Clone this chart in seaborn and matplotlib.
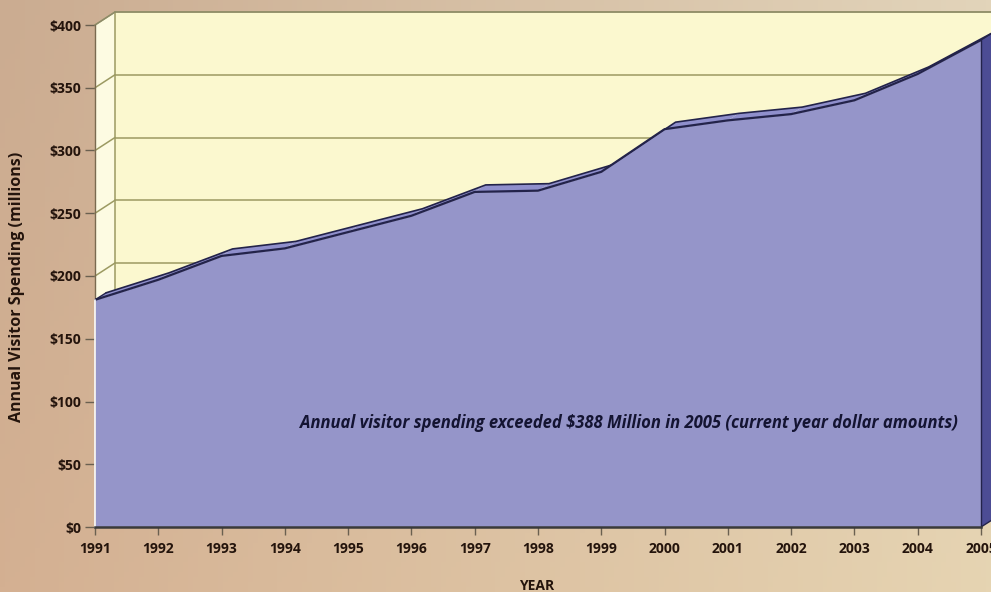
import numpy as np
import pandas as pd
import matplotlib
matplotlib.use("Agg")
import matplotlib.pyplot as plt
import seaborn as sns
from matplotlib.patches import Polygon
from matplotlib import font_manager

# ---- data ----
years = [1991, 1992, 1993, 1994, 1995, 1996, 1997, 1998, 1999, 2000, 2001, 2002, 2003, 2004, 2005]
spending = [181, 197, 216, 222, 235, 248, 267, 268, 283, 317, 324, 329, 340, 361, 388]
y_ticks = [0, 50, 100, 150, 200, 250, 300, 350, 400]
y_tick_labels = ["$0", "$50", "$100", "$150", "$200", "$250", "$300", "$350", "$400"]
y_label = "Annual Visitor Spending (millions)"
x_label = "YEAR"
note = "Annual visitor spending exceeded $388 Million in 2005 (current year dollar amounts)"

df = pd.DataFrame({"year": years, "spending": spending})

sns.set_style("ticks")
names = {f.name for f in font_manager.fontManager.ttflist}
narrow = "Liberation Sans Narrow" if "Liberation Sans Narrow" in names else "Open Sans"
plt.rcParams["font.family"] = ["Open Sans", "DejaVu Sans"]

W, H = 991, 592
fig = plt.figure(figsize=(W / 100, H / 100), dpi=100)

# background gradient
bg = fig.add_axes([0, 0, 1, 1], zorder=-10)
tl = np.array([203, 172, 145]); tr = np.array([226, 212, 186])
bl = np.array([212, 176, 146]); br = np.array([230, 212, 178])
gx = np.linspace(0, 1, 200)[None, :, None]
gy = np.linspace(0, 1, 120)[:, None, None]
img = (tl * (1 - gx) * (1 - gy) + tr * gx * (1 - gy) + bl * (1 - gx) * gy + br * gx * gy) / 255
bg.imshow(img, aspect="auto", extent=[0, 1, 0, 1], origin="upper")
bg.axis("off")

# main axes
x0px, x1px = 95, 981
y0px, y1px = 527, 25
ax = fig.add_axes([x0px / W, (H - y0px) / H, (x1px - x0px) / W, (y0px - y1px) / H])
ax.patch.set_alpha(0)
ax.set_xlim(1991, 2005)
ax.set_ylim(0, 400)

pxx = (2005 - 1991) / (x1px - x0px)   # years per px
pxy = 400 / (y0px - y1px)             # $ per px
wdx, wdy = 20 * pxx, 13 * pxy         # wall depth
sdx, sdy = 11 * pxx, 7 * pxy          # series depth

wall_col = "#fbf8cf"
side_col = "#fdfbe2"
grid_col = "#9c9a62"

# back wall
ax.add_patch(Polygon([(1991 + wdx, wdy), (2006, wdy), (2006, 400 + wdy), (1991 + wdx, 400 + wdy)],
                     closed=True, facecolor=wall_col, edgecolor="none", clip_on=False, zorder=1))
# left side wall
ax.add_patch(Polygon([(1991, 0), (1991, 400), (1991 + wdx, 400 + wdy), (1991 + wdx, wdy)],
                     closed=True, facecolor=side_col, edgecolor="none", clip_on=False, zorder=1))
# gridlines on walls
for v in y_ticks[1:]:
    ax.plot([1991 + wdx, 2006], [v + wdy, v + wdy], color=grid_col, lw=1.1, clip_on=False, zorder=2)
    ax.plot([1991, 1991 + wdx], [v, v + wdy], color=grid_col, lw=1.1, clip_on=False, zorder=2)
ax.plot([1991 + wdx, 1991 + wdx], [wdy, 400 + wdy], color=grid_col, lw=1.1, clip_on=False, zorder=2)
ax.plot([1991, 1991 + wdx, 2006], [400, 400 + wdy, 400 + wdy], color="#8c8a6a", lw=1.0, clip_on=False, zorder=2)

# top surface strips of the area
edge = "#23234a"
strip = "#8f8fcc"
for i in range(len(years) - 1):
    xa, xb = years[i], years[i + 1]
    va, vb = spending[i], spending[i + 1]
    ax.add_patch(Polygon([(xa, va), (xb, vb), (xb + sdx, vb + sdy), (xa + sdx, va + sdy)],
                         closed=True, facecolor=strip, edgecolor="none",
                         clip_on=False, zorder=3))
ax.plot(np.array(years) + sdx, np.array(spending) + sdy, color=edge, lw=1.2, zorder=3.5, clip_on=False)
ax.plot([1991, 1991 + sdx], [spending[0], spending[0] + sdy], color=edge, lw=1.0, zorder=3.5, clip_on=False)
# right side face
ax.add_patch(Polygon([(2005, 0), (2005, spending[-1]), (2005 + sdx, spending[-1] + sdy), (2005 + sdx, sdy)],
                     closed=True, facecolor="#4c4c94", edgecolor=edge, lw=1.0, clip_on=False, zorder=3))
# front face
ax.fill_between(df["year"], 0, df["spending"], color="#9595c9", lw=0, zorder=4, clip_on=False)
sns.lineplot(data=df, x="year", y="spending", ax=ax, color=edge, lw=1.6, zorder=5)
ax.plot([2005, 2005], [0, spending[-1]], color=edge, lw=1.0, zorder=5, clip_on=False)
ax.plot([1991, 1991], [0, spending[0]], color="#ffffff", lw=1.2, zorder=5, clip_on=False)

# axes styling
for s in ["top", "right"]:
    ax.spines[s].set_visible(False)
ax.spines["left"].set_color("#7a6a50")
ax.spines["left"].set_linewidth(1.0)
ax.spines["bottom"].set_color("#3a3a3a")
ax.spines["bottom"].set_linewidth(1.8)
ax.spines["bottom"].set_zorder(6)
ax.set_yticks(y_ticks)
ax.set_yticklabels([t.replace("$", r"\$") for t in y_tick_labels])
ax.set_xticks(years)
ax.set_xticklabels([str(y) for y in years])
ax.tick_params(axis="y", length=7, width=1.0, color="#6a6050", pad=3, labelsize=10, labelcolor="#24140c")
ax.tick_params(axis="x", length=6, width=1.0, color="#6a6050", pad=5, labelsize=10, labelcolor="#24140c")
for lbl in ax.get_xticklabels() + ax.get_yticklabels():
    lbl.set_fontweight("bold")
ax.set_xlabel("")
ax.set_ylabel("")

fig.text(17 / W, 1 - 287 / H, y_label, rotation=90, ha="center", va="center",
         fontsize=11.5, fontweight="bold", color="#24140c")
fig.text(537 / W, 1 - 586 / H, x_label, ha="center", va="center",
         fontsize=10, fontweight="bold", color="#24140c")

xr = 1991 + (958 - x0px) * pxx
yr = (y0px - 423) * pxy
ax.text(xr, yr, note.replace("$", r"\$"), ha="right", va="center", fontsize=12,
        fontweight="bold", fontstyle="italic", color="#141432", zorder=7,
        family=[narrow, "DejaVu Sans"])

fig.savefig("out.png", dpi=100)
